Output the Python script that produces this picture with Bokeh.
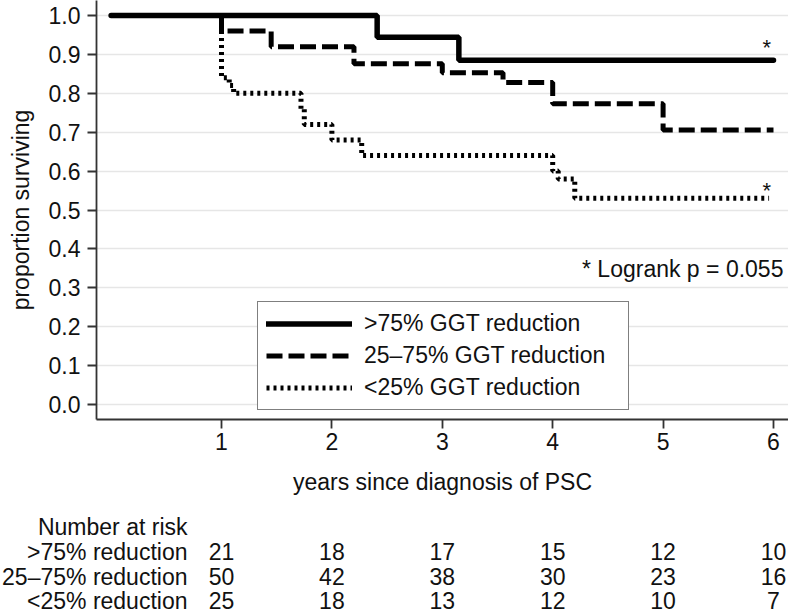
from bokeh.plotting import figure
from bokeh.models import Range1d, FixedTicker, Legend, LegendItem, Label, NumeralTickFormatter
from bokeh.embed import file_html
from bokeh.resources import INLINE

# ---- data ----
years_gt75 = [0.0, 2.41, 3.15, 6.0]
surv_gt75 = [1.0, 0.944, 0.885, 0.885]

years_mid = [0.0, 1.0, 1.45, 2.2, 3.0, 3.55, 4.0, 5.0, 6.0]
surv_mid = [1.0, 0.96, 0.92, 0.876, 0.853, 0.828, 0.773, 0.706, 0.706]

years_lt25 = [0.0, 1.0, 1.07, 1.11, 1.72, 1.75, 2.0, 2.27, 4.0, 4.05, 4.2, 5.96]
surv_lt25 = [1.0, 0.84, 0.82, 0.80, 0.76, 0.72, 0.68, 0.64, 0.60, 0.58, 0.53, 0.53]

series_labels = [">75% GGT reduction", "25–75% GGT reduction", "<25% GGT reduction"]

risk_title = "Number at risk"
risk_groups = [">75% reduction", "25–75% reduction", "<25% reduction"]
risk_years = [1, 2, 3, 4, 5, 6]
risk_gt75 = [21, 18, 17, 15, 12, 10]
risk_mid = [50, 42, 38, 30, 23, 16]
risk_lt25 = [25, 18, 13, 12, 10, 7]

y_ticks = [0.0, 0.1, 0.2, 0.3, 0.4, 0.5, 0.6, 0.7, 0.8, 0.9, 1.0]
x_ticks = [1, 2, 3, 4, 5, 6]

logrank_text = "* Logrank p = 0.055"

FONT = "Liberation Sans"
FS = "23px"
TXT = "#111111"

W = 788
H_MAIN = 510
H_TABLE = 105
X0, X1 = -0.1322, 6.1359

p = figure(width=W, height=H_MAIN,
           x_range=Range1d(X0, X1), y_range=Range1d(-0.03856, 1.0386),
           output_backend="svg", toolbar_location=None,
           min_border_left=96, min_border_right=0, min_border_top=0, min_border_bottom=H_MAIN - 419)
p.outline_line_color = None
p.background_fill_color = "white"
p.border_fill_color = "white"

for ax in (p.xaxis[0], p.yaxis[0]):
    ax.axis_line_color = "#333333"
    ax.axis_line_width = 1.8
    ax.major_tick_line_color = "#333333"
    ax.major_tick_line_width = 1.8
    ax.major_tick_out = 9
    ax.major_tick_in = 0
    ax.minor_tick_line_color = None
    ax.major_label_text_font = FONT
    ax.major_label_text_font_size = FS
    ax.major_label_text_color = TXT
    ax.axis_label_text_font = FONT
    ax.axis_label_text_font_size = FS
    ax.axis_label_text_font_style = "normal"
    ax.axis_label_text_color = TXT

p.xaxis.ticker = FixedTicker(ticks=x_ticks)
p.yaxis.ticker = FixedTicker(ticks=y_ticks)
p.yaxis.formatter = NumeralTickFormatter(format="0.0")
p.xaxis.axis_label = "years since diagnosis of PSC"
p.yaxis.axis_label = "proportion surviving"
p.xaxis.major_label_standoff = 4
p.yaxis.major_label_standoff = 7
p.xaxis.axis_label_standoff = 16
p.yaxis.axis_label_standoff = 12

p.xgrid.visible = False
p.ygrid.ticker = FixedTicker(ticks=y_ticks)
p.ygrid.grid_line_color = "#e6e6e6"
p.ygrid.grid_line_width = 1.6

r1 = p.step(years_gt75, surv_gt75, mode="after", line_color="black", line_width=5.5, line_cap="round")
r2 = p.step(years_mid, surv_mid, mode="after", line_color="black", line_width=5, line_dash="16 6")
r3 = p.step(years_lt25, surv_lt25, mode="after", line_color="black", line_width=5, line_dash="3 4")

legend = Legend(items=[LegendItem(label=series_labels[0], renderers=[r1]),
                       LegendItem(label=series_labels[1], renderers=[r2]),
                       LegendItem(label=series_labels[2], renderers=[r3])],
                location=(161, 9))
legend.label_text_font = FONT
legend.label_text_font_size = FS
legend.label_text_color = TXT
legend.glyph_width = 86
legend.glyph_height = 27
legend.label_height = 27
legend.label_width = 256
legend.label_standoff = 12
legend.spacing = 5
legend.padding = 8
legend.margin = 0
legend.border_line_color = "black"
legend.border_line_width = 1.5
legend.background_fill_color = "white"
legend.background_fill_alpha = 1.0
p.add_layout(legend)

p.add_layout(Label(x=6.09, y=0.3496, text=logrank_text, text_align="right", text_baseline="alphabetic",
                   text_font=FONT, text_font_size=FS, text_color=TXT))
p.add_layout(Label(x=5.94, y=0.918, text="*", text_align="center", text_baseline="alphabetic",
                   text_font=FONT, text_font_size="22px", text_color=TXT))
p.add_layout(Label(x=5.94, y=0.55, text="*", text_align="center", text_baseline="alphabetic",
                   text_font=FONT, text_font_size="22px", text_color=TXT))

# ---- number-at-risk table (separate root, same horizontal scale as the main plot) ----
t = figure(width=W, height=H_TABLE,
           x_range=Range1d(-110.6 / 110.4, (W - 110.6) / 110.4), y_range=Range1d(H_TABLE, 0),
           output_backend="svg", toolbar_location=None,
           x_axis_location=None, y_axis_location=None,
           min_border_left=0, min_border_right=0, min_border_top=0, min_border_bottom=0)
t.outline_line_color = None
t.grid.visible = False
t.background_fill_color = "white"
t.border_fill_color = "white"

row_y = [16, 41, 66, 90]
name_x = 0.692
for txt, yy in zip([risk_title] + risk_groups, row_y):
    t.add_layout(Label(x=name_x, y=yy, text=txt, text_align="right", text_baseline="middle",
                       text_font=FONT, text_font_size=FS, text_color=TXT))
for gi, counts in enumerate([risk_gt75, risk_mid, risk_lt25]):
    for yr, n in zip(risk_years, counts):
        t.add_layout(Label(x=yr, y=row_y[gi + 1], text=str(n), text_align="center", text_baseline="middle",
                           text_font=FONT, text_font_size=FS, text_color=TXT))

open("out.html", "w").write(file_html([p, t], INLINE))
